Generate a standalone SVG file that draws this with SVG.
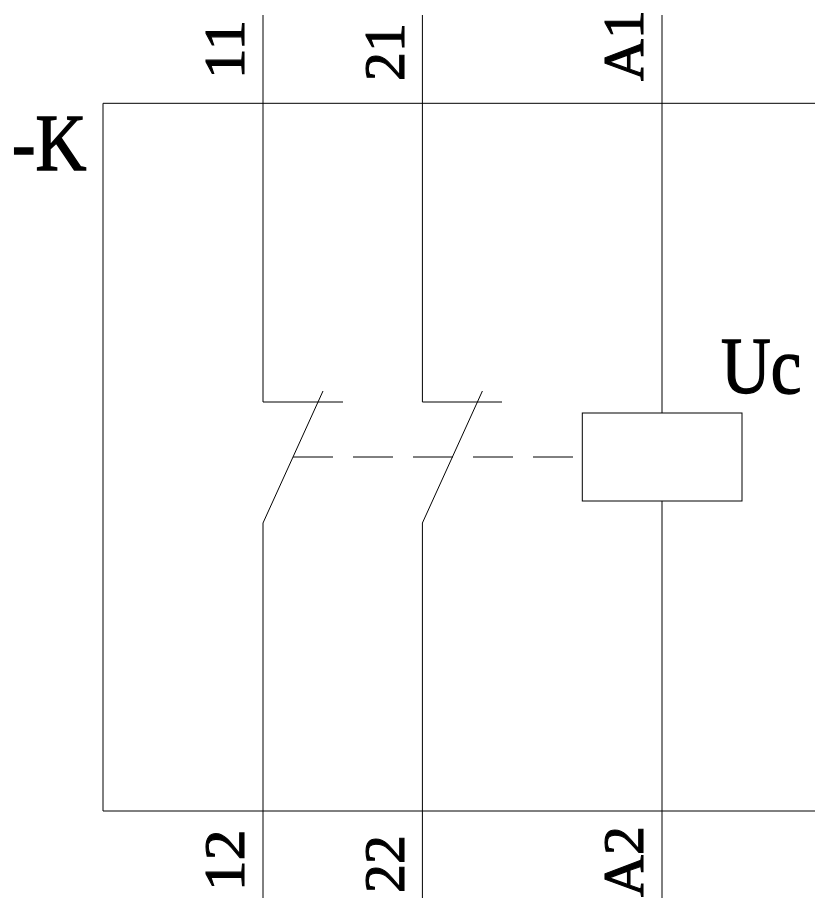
<svg xmlns="http://www.w3.org/2000/svg" width="815" height="899" viewBox="0 0 815 899">
<style>
.l{fill:none;stroke:#000;stroke-width:1}
text{font-family:"Liberation Serif",serif;fill:#000;stroke:#000}
.r{font-size:58px;stroke-width:1.1}
.h{font-size:81px;stroke-width:1.5}
</style>
<rect width="815" height="899" fill="#fff"/>
<g id="frame"><path class="l" d="M815 103.3H103V811H815"/></g>
<g id="connectors">
<path class="l" d="M263 15V402H343"/>
<path class="l" d="M422.4 15V402H502"/>
<path class="l" d="M323 391L263 523V898"/>
<path class="l" d="M482.4 391L422.4 523V898"/>
<path class="l" d="M662 15V413"/>
<path class="l" d="M662 501V898"/>
<path class="l" d="M293 457H573" stroke-dasharray="40 20"/>
</g>
<g id="coil"><rect class="l" x="582.3" y="413" width="159.7" height="88"/></g>
<g id="labels">
<text class="r" transform="translate(243.5 79) rotate(-90) scale(1.06 1)">11</text>
<text class="r" transform="translate(403.5 81) rotate(-90)">21</text>
<text class="r" transform="translate(643 81) rotate(-90)">A1</text>
<text class="r" transform="translate(243.5 891) rotate(-90) scale(1.06 1)">12</text>
<text class="r" transform="translate(403.5 893) rotate(-90)">22</text>
<text class="r" transform="translate(643 897) rotate(-90)">A2</text>
<text class="h" transform="translate(12 170) scale(.87 1)">-K</text>
<text class="h" transform="translate(721 393) scale(.85 1)">Uc</text>
</g>
</svg>
